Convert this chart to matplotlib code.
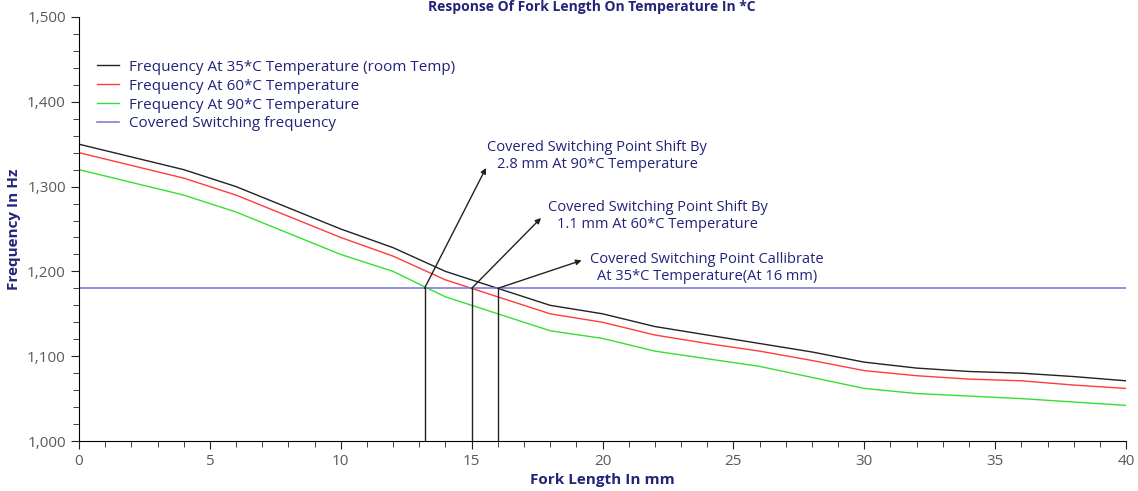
import matplotlib.pyplot as plt
from matplotlib.ticker import MultipleLocator, FuncFormatter

plt.rcParams['font.family'] = ['Open Sans', 'DejaVu Sans']

fork_mm = [0, 2, 4, 6, 8, 10, 12, 14, 16, 18, 20, 22, 24, 26, 28, 30, 32, 34, 36, 38, 40]
freq_35 = [1350, 1335, 1320, 1300, 1275, 1250, 1228, 1200, 1180, 1160, 1150,
           1135, 1125, 1115, 1105, 1093, 1086, 1082, 1080, 1076, 1071]
freq_60 = [1340, 1325, 1310, 1290, 1265, 1240, 1218, 1190, 1170, 1150, 1140,
           1125, 1115, 1106, 1095, 1083, 1077, 1073, 1071, 1066, 1062]
freq_90 = [1320, 1305, 1290, 1270, 1245, 1220, 1200, 1170, 1150, 1130, 1121,
           1106, 1097, 1088, 1075, 1062, 1056, 1053, 1050, 1046, 1042]
switch_freq = 1180
switch_points = [13.2, 15.0, 16.0]
notes = [
    "Covered Switching Point Shift By\n2.8 mm At 90*C Temperature",
    "Covered Switching Point Shift By\n1.1 mm At 60*C Temperature",
    "Covered Switching Point Callibrate\nAt 35*C Temperature(At 16 mm)",
]
note_tips = [(15.55, 1322), (17.65, 1263), (19.2, 1213)]
note_pos = [(19.8, 1336), (22.1, 1265), (24.0, 1204)]

navy = '#23237a'

fig = plt.figure(figsize=(11.38, 4.91), dpi=100)
ax = fig.add_axes([0.0694, 0.1018, 0.9201, 0.8636])

ax.plot(fork_mm, freq_35, color='#222222', lw=1, label='Frequency At 35*C Temperature (room Temp)')
ax.plot(fork_mm, freq_60, color='#ff3b3b', lw=1, label='Frequency At 60*C Temperature')
ax.plot(fork_mm, freq_90, color='#35e035', lw=1, label='Frequency At 90*C Temperature')
ax.axhline(switch_freq, color='#7474d4', lw=1.1, label='Covered Switching frequency')

for sx, txt, tip, pos in zip(switch_points, notes, note_tips, note_pos):
    ax.plot([sx, sx], [1000, switch_freq], color='#222222', lw=1)
    ax.annotate('', xy=tip, xytext=(sx, switch_freq),
                arrowprops=dict(arrowstyle='-|>', color='#222222', lw=1,
                                mutation_scale=8, shrinkA=0, shrinkB=0))
    ax.text(pos[0], pos[1], txt, ha='center', va='center', color=navy,
            fontsize=10.5, multialignment='center', linespacing=1.2)

ax.set_xlim(0, 40)
ax.set_ylim(1000, 1500)
ax.xaxis.set_major_locator(MultipleLocator(5))
ax.xaxis.set_minor_locator(MultipleLocator(1))
ax.yaxis.set_major_locator(MultipleLocator(100))
ax.yaxis.set_minor_locator(MultipleLocator(20))
ax.yaxis.set_major_formatter(FuncFormatter(lambda v, p: f"{int(v):,}"))
ax.tick_params(which='major', length=6, colors='#222222', labelcolor='#5a5a5a', labelsize=11)
ax.tick_params(which='minor', length=4, colors='#222222')
for s in ['top', 'right']:
    ax.spines[s].set_visible(False)

ax.set_xlabel('Fork Length In mm', color=navy, fontweight='bold', fontsize=11, labelpad=3)
ax.set_ylabel('Frequency In Hz', color=navy, fontweight='bold', fontsize=11, labelpad=4)

leg = ax.legend(loc='upper left', bbox_to_anchor=(0.004, 0.932), frameon=False,
                fontsize=11, handlelength=1.45, handletextpad=0.65, labelspacing=0.26)
for t in leg.get_texts():
    t.set_color(navy)

fig.text(0.52, 0.999, 'Response Of Fork Length On Temperature In *C', ha='center', va='top',
         color=navy, fontweight='bold', fontsize=10)

fig.savefig('out.png', dpi=100)
